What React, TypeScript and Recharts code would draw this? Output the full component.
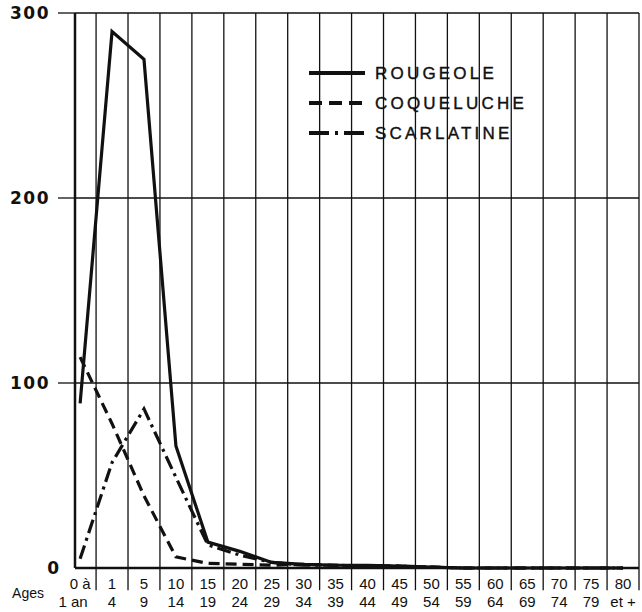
import { CartesianGrid, Legend, Line, LineChart, ReferenceLine, XAxis, YAxis } from "recharts";

const AGE_FROM = ["0 à", "1", "5", "10", "15", "20", "25", "30", "35", "40", "45", "50", "55", "60", "65", "70", "75", "80"];
const AGE_TO = ["1 an", "4", "9", "14", "19", "24", "29", "34", "39", "44", "49", "54", "59", "64", "69", "74", "79", "et +"];

const ROUGEOLE = [89, 290, 275, 66, 14, 9, 3, 2, 1.5, 1.5, 1, 0.5, 0, 0, 0, 0, 0, 0];
const COQUELUCHE = [114, 78, 39, 6, 2.5, 2, 1.5, 2, 1.5, 1, 1, 0.5, 0, 0, 0, 0, 0, 0];
const SCARLATINE = [5, 57, 86, 49, 12.5, 7, 3, 1.5, 1.5, 1, 1, 0.5, 0, 0, 0, 0, 0, 0];

const Y_TICKS = [0, 100, 200, 300];

const INK = "#111";
const FONT = "'Liberation Sans', Arial, sans-serif";

const SERIES = [
  { key: "rougeole", name: "ROUGEOLE", dash: undefined, legendDash: undefined },
  { key: "coqueluche", name: "COQUELUCHE", dash: "11 6", legendDash: "13 7" },
  { key: "scarlatine", name: "SCARLATINE", dash: "14 5 3 5", legendDash: "20 6 3 6" },
];

const data = AGE_FROM.map((_, i) => ({
  idx: i,
  rougeole: ROUGEOLE[i],
  coqueluche: COQUELUCHE[i],
  scarlatine: SCARLATINE[i],
}));

// right edge of every age class (last one is the frame border)
const classEdges = AGE_FROM.map((_, i) => i + 0.5);

function AgeTick({ x, y, payload }: any) {
  const i = payload.value as number;
  return (
    <g fontFamily={FONT} fontSize={15} fill={INK}>
      <text x={x} y={y + 21} textAnchor="middle">{AGE_FROM[i]}</text>
      <text x={x + (i === 0 ? -7 : 0)} y={y + 39} textAnchor="middle">{AGE_TO[i]}</text>
    </g>
  );
}

function CountTick({ x, y, payload }: any) {
  const v = payload.value as number;
  return (
    <g>
      {v !== 0 && <line x1={x - 17} x2={x} y1={y} y2={y} stroke={INK} strokeWidth={1.3} />}
      <text
        x={v === 0 ? x - 16 : x - 25}
        y={y + 6}
        textAnchor="end"
        fontFamily="'DejaVu Sans', sans-serif"
        fontWeight="bold"
        fontSize={17}
        letterSpacing={v === 0 ? 0 : 1.5}
        fill={INK}
      >
        {v}
      </text>
    </g>
  );
}

function LegendBox() {
  return (
    <svg width={230} height={90}>
      {SERIES.map((s, i) => (
        <g key={s.key} transform={`translate(0, ${13 + i * 30})`}>
          <line x1={4} x2={60} y1={0} y2={0} stroke={INK} strokeWidth={4} strokeDasharray={s.legendDash} />
          <text x={70} y={6} fontFamily={FONT} fontSize={17} letterSpacing={3.2} fill={INK} stroke={INK} strokeWidth={0.4}>
            {s.name}
          </text>
        </g>
      ))}
    </svg>
  );
}

export default function App() {
  return (
    <div style={{ position: "absolute", left: 0, top: 0, background: "#fff" }}>
      <LineChart width={642} height={612} data={data} margin={{ top: 13, right: 3, left: 0, bottom: 0 }}>
        <CartesianGrid vertical={false} stroke={INK} strokeWidth={1.3} strokeOpacity={1} />
        <XAxis
          type="number"
          dataKey="idx"
          domain={[-0.16, 17.5]}
          ticks={data.map((d) => d.idx)}
          interval={0}
          height={44}
          tickSize={0}
          tickMargin={0}
          tickLine={false}
          axisLine={{ stroke: INK, strokeWidth: 2.5 }}
          tick={(p: any) => <AgeTick {...p} />}
          label={{ value: "Ages", position: "left", offset: 31, dy: 3, fontFamily: FONT, fontSize: 14, fill: INK }}
        />
        <YAxis
          domain={[0, 300]}
          ticks={Y_TICKS}
          width={75}
          tickSize={0}
          tickMargin={0}
          tickLine={false}
          axisLine={{ stroke: INK, strokeWidth: 2.5 }}
          tick={(p: any) => <CountTick {...p} />}
        />
        {classEdges.map((e) => (
          <ReferenceLine
            key={e}
            segment={[{ x: e, y: 300 }, { x: e, y: -12 }]}
            ifOverflow="visible"
            stroke={INK}
            strokeWidth={1.3}
          />
        ))}
        <Legend
          layout="vertical"
          align="center"
          verticalAlign="middle"
          wrapperStyle={{ left: 305, top: 60, width: 230 }}
          content={() => <LegendBox />}
        />
        {SERIES.map((s) => (
          <Line
            key={s.key}
            type="linear"
            dataKey={s.key}
            name={s.name}
            stroke={INK}
            strokeWidth={3.2}
            strokeDasharray={s.dash}
            dot={false}
            activeDot={false}
            isAnimationActive={false}
          />
        ))}
      </LineChart>
    </div>
  );
}
